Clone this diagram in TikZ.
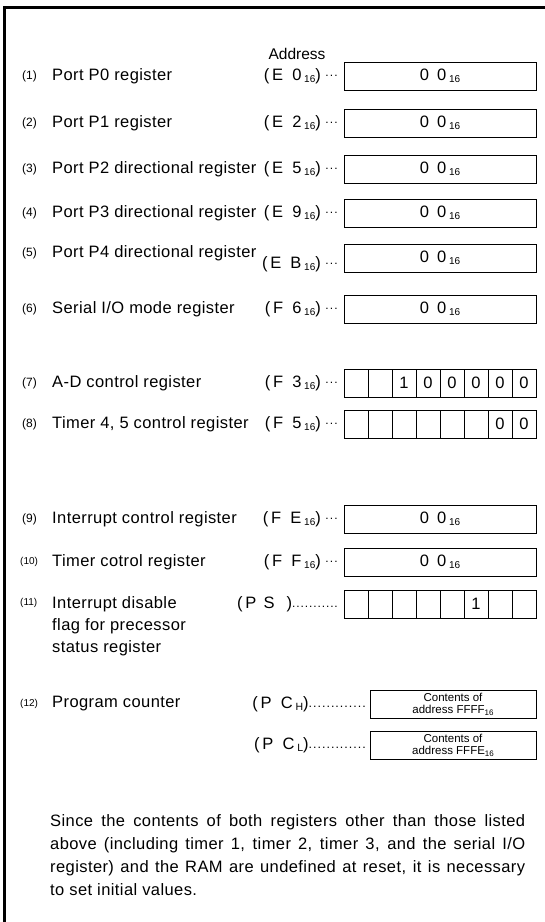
\documentclass[tikz,border=0pt]{standalone}
\usepackage{fontspec}
\setmainfont{Liberation Sans}[LetterSpace=2.5]
\newfontfamily\plainsf{Liberation Sans}
\newcommand{\subsix}{\raisebox{-2.5pt}{\fontsize{10}{10}\selectfont 16}}
\newcommand{\tridots}{\raisebox{3.5pt}{\fontsize{12}{12}\selectfont .\kern1.2pt.\kern1.2pt.}}
\newcommand{\adr}[2]{(\,#1\ \ #2\,\subsix)\ \tridots}
\newcommand{\sdot}{.\kern0.9pt}
\newcommand{\psdots}{\raisebox{1pt}{\fontsize{12}{12}\selectfont\sdot\sdot\sdot\sdot\sdot\sdot\sdot\sdot\sdot\sdot.}}
\newcommand{\pcdot}{.\kern1pt}
\newcommand{\pcdots}{\raisebox{1pt}{\fontsize{12.5}{12}\selectfont\pcdot\pcdot\pcdot\pcdot\pcdot\pcdot\pcdot\pcdot\pcdot\pcdot\pcdot\pcdot.}}
\newcommand{\zz}{0\enspace0\,\subsix}
\begin{document}
\begin{tikzpicture}[x=1pt,y=-1pt,
  lbl/.style={anchor=west,inner sep=0pt,font=\fontsize{16.5}{18}\selectfont},
  num/.style={anchor=west,inner sep=0pt,font=\plainsf\fontsize{12}{13}\selectfont},
  adrs/.style={anchor=east,inner sep=0pt,font=\plainsf\fontsize{16.5}{18}\selectfont},
  valbox/.style={draw,line width=0.8pt,minimum width=192pt,minimum height=28pt,inner sep=0pt,font=\plainsf\fontsize{16.5}{18}\selectfont},
  cell/.style={draw,line width=0.8pt,minimum width=24pt,minimum height=28pt,inner sep=0pt,font=\plainsf\fontsize{16.5}{18}\selectfont},
  pcbox/.style={draw,line width=0.8pt,minimum width=166pt,minimum height=28pt,inner sep=0pt,align=center,font=\plainsf\fontsize{11.5}{12.5}\selectfont},
  para/.style={anchor=base west,inner sep=0pt,font=\fontsize{16.5}{18}\selectfont}]
\useasboundingbox (0,0) rectangle (545,922);
\draw[line width=3pt] (4,922) -- (4,7) -- (545,7);

\node[lbl,anchor=center,font=\plainsf\fontsize{15.5}{18}\selectfont] (hdr) at (297,54) {Address};

% row 1
\node[num] (n1) at (22,76) {(1)};
\node[lbl] (l1) at (52,76) {Port P0 register};
\node[adrs] (a1) at (338,76) {\adr{E}{0}};
\node[valbox] (b1) at (440,76) {\zz};
% row 2
\node[num] (n2) at (22,123) {(2)};
\node[lbl] (l2) at (52,123) {Port P1 register};
\node[adrs] (a2) at (338,123) {\adr{E}{2}};
\node[valbox] (b2) at (440,123) {\zz};
% row 3
\node[num] (n3) at (22,169) {(3)};
\node[lbl] (l3) at (52,169) {Port P2 directional register};
\node[adrs] (a3) at (338,169) {\adr{E}{5}};
\node[valbox] (b3) at (440,169) {\zz};
% row 4
\node[num] (n4) at (22,213) {(4)};
\node[lbl] (l4) at (52,213) {Port P3 directional register};
\node[adrs] (a4) at (338,213) {\adr{E}{9}};
\node[valbox] (b4) at (440,213) {\zz};
% row 5
\node[num] (n5) at (22,253) {(5)};
\node[lbl] (l5) at (52,253) {Port P4 directional register};
\node[adrs] (a5) at (338,264) {\adr{E}{B}};
\node[valbox] (b5) at (440,258) {\zz};
% row 6
\node[num] (n6) at (22,309) {(6)};
\node[lbl] (l6) at (52,309) {Serial I/O mode register};
\node[adrs] (a6) at (338,309) {\adr{F}{6}};
\node[valbox] (b6) at (440,309) {\zz};
% row 7
\node[num] (n7) at (22,383) {(7)};
\node[lbl] (l7) at (52,383) {A-D control register};
\node[adrs] (a7) at (338,383) {\adr{F}{3}};
\foreach \i/\t in {1/{},2/{},3/1,4/0,5/0,6/0,7/0,8/0}
  \node[cell] (r7c\i) at ({344+(\i-0.5)*24},383) {\t};
% row 8
\node[num] (n8) at (22,424) {(8)};
\node[lbl] (l8) at (52,424) {Timer 4, 5 control register};
\node[adrs] (a8) at (338,424) {\adr{F}{5}};
\foreach \i/\t in {1/{},2/{},3/{},4/{},5/{},6/{},7/0,8/0}
  \node[cell] (r8c\i) at ({344+(\i-0.5)*24},424) {\t};
% row 9
\node[num] (n9) at (22,519) {(9)};
\node[lbl] (l9) at (52,519) {Interrupt control register};
\node[adrs] (a9) at (338,519) {\adr{F}{E}};
\node[valbox] (b9) at (440,519) {\zz};
% row 10
\node[num] (n10) at (20,562) {\fontsize{10}{11}\selectfont(10)};
\node[lbl] (l10) at (52,562) {Timer cotrol register};
\node[adrs] (a10) at (338,562) {\adr{F}{F}};
\node[valbox] (b10) at (440,562) {\zz};
% row 11
\node[num] (n11) at (20,603) {\fontsize{10}{11}\selectfont(11)};
\node[lbl] (l11a) at (52,604) {Interrupt disable};
\node[lbl] (l11b) at (52,626) {flag for precessor};
\node[lbl] (l11c) at (52,648) {status register};
\node[adrs] (a11) at (338,604) {(\,P\ \,S\ \ \,)\psdots};
\foreach \i/\t in {1/{},2/{},3/{},4/{},5/{},6/1,7/{},8/{}}
  \node[cell] (r11c\i) at ({344+(\i-0.5)*24},604) {\t};
% row 12
\node[num] (n12) at (20,704) {\fontsize{10}{11}\selectfont(12)};
\node[lbl] (l12) at (52,704) {Program counter};
\node[adrs] (a12) at (366,704) {(\,P\ \ C\,\raisebox{-2.5pt}{\fontsize{10.5}{10}\selectfont H})\pcdots};
\node[pcbox] (pch) at (453,704) {Contents of\\address FFFF\raisebox{-1.5pt}{\fontsize{8}{8}\selectfont 16}};
\node[adrs] (a13) at (366,745) {(\,P\ \ C\,\raisebox{-2.5pt}{\fontsize{10.5}{10}\selectfont L})\pcdots};
\node[pcbox] (pcl) at (453,745) {Contents of\\address FFFE\raisebox{-1.5pt}{\fontsize{8}{8}\selectfont 16}};

% paragraph
\node[para] (p1) at (50,826) {\makebox[475pt][s]{Since the contents of both registers other than those listed}};
\node[para] (p2) at (50,849) {\makebox[475pt][s]{above (including timer 1, timer 2, timer 3, and the serial I/O}};
\node[para] (p3) at (50,872) {\makebox[475pt][s]{register) and the RAM are undefined at reset, it is necessary}};
\node[para] (p4) at (50,895) {to set initial values.};
\end{tikzpicture}
\end{document}
